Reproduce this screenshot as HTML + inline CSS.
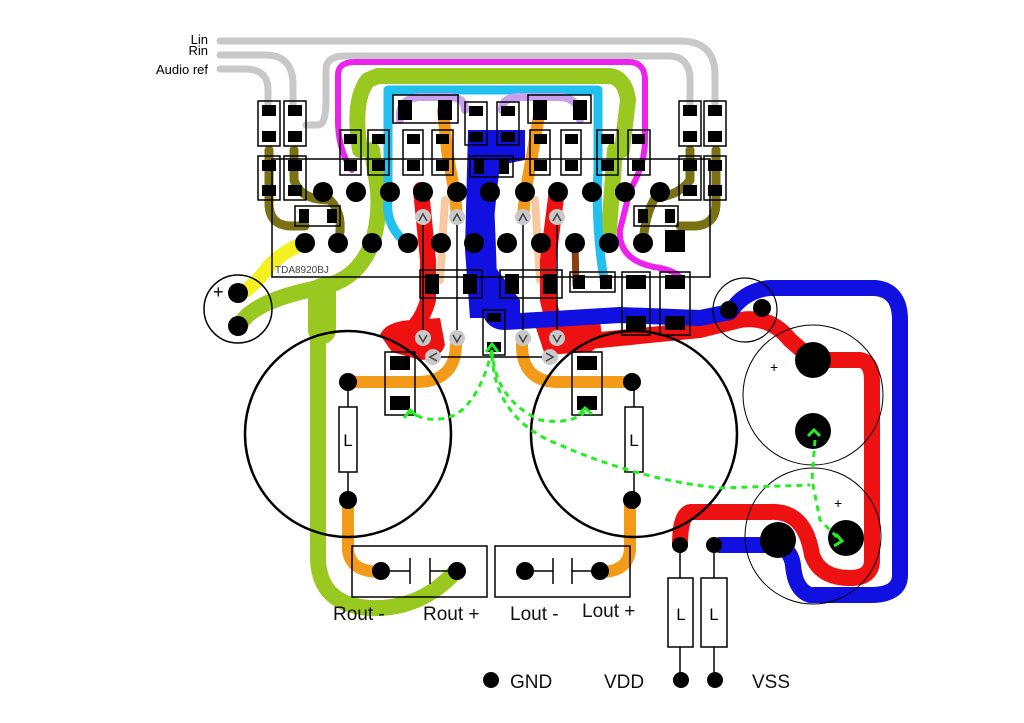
<!DOCTYPE html>
<html><head><meta charset="utf-8"><style>
html,body{margin:0;padding:0;background:#fff;width:1024px;height:723px;overflow:hidden}
svg{display:block}
text{font-family:"Liberation Sans",sans-serif}
</style></head><body>
<svg width="1024" height="723" viewBox="0 0 1024 723" xmlns="http://www.w3.org/2000/svg">
<g fill="none" stroke-linecap="round" stroke-linejoin="round">
<g stroke="#c8c8c8" stroke-width="7">
<path d="M220,41 L680,41 Q715,41 715,75 L715,105"/>
<path d="M220,55 L265,55 Q293,55 293,85 L293,105"/>
<path d="M220,69 L245,69 Q268,69 268,90 L268,105"/>
<path d="M306,125 L318,125 Q326,125 326,100 L326,70 Q326,56 345,56 L668,56 Q690,56 690,80 L690,105"/>
</g>
<path stroke="#ee22ee" stroke-width="6" d="M352,170 Q338,150 338,120 L338,75 Q338,62 355,62 L628,62 Q645,62 645,80 L645,140 Q645,165 630,190 L620,230 Q618,262 660,268 Q680,272 682,282"/>
<path stroke="#f5f020" stroke-width="14" d="M305,243 Q285,250 270,265 Q255,285 242,293"/>
<g stroke="#99c820" stroke-width="16">
<path d="M360,150 Q352,100 368,80 L378,76 L610,76 Q625,78 628,100 L622,150"/>
<path d="M372,243 Q380,220 378,190 L372,150"/>
<path d="M372,243 Q360,275 330,285 L300,292 Q250,305 240,325"/>
<path d="M325,285 Q318,300 318,340 L318,560 Q320,605 370,608 Q420,610 455,572"/>
<path d="M608,243 Q610,215 612,190 L615,150"/>
</g>
<path stroke="#99c820" stroke-width="28" d="M322,292 L322,330"/>
<g stroke="#22c0ee" stroke-width="9">
<path d="M406,243 Q385,225 388,200 L388,90 L598,90 L598,170 Q595,230 605,285"/>
</g>
<g stroke="#c9a0ee" stroke-width="8">
<path d="M400,120 Q398,98 420,97 L450,97 Q465,98 465,110"/>
<path d="M502,110 Q502,97 520,97 L560,97 Q580,98 580,120"/>
</g>
<g stroke="#7a7212" stroke-width="9">
<path d="M269,150 L269,205 Q270,225 290,226 L305,226"/>
<path d="M294,150 L294,180 Q300,200 330,200 Q345,215 338,243"/>
<path d="M716,150 L716,205 Q715,225 695,226 L680,226"/>
<path d="M690,150 L690,180 Q680,195 655,198 Q645,215 643,243"/>
</g>
<path stroke="#8a4010" stroke-width="7" d="M575,243 L576,285"/>
<g stroke="#f39a18" stroke-width="12">
<path d="M443,110 L447,150 L455,195 L457,217"/>
<path d="M540,110 L533,150 L525,195 L523,217"/>
<path d="M345,382 L420,382 Q455,380 456,345"/>
<path d="M630,382 L555,382 Q522,380 522,345"/>
<path d="M348,500 L348,550 Q350,572 381,572"/>
<path d="M630,500 L630,550 Q628,572 600,572"/>
</g>
<g stroke="#f8c8a0" stroke-width="8"><path d="M445,200 L440,280"/><path d="M535,200 L540,280"/></g>
<g stroke="#ee1111" stroke-width="16">
<path d="M421,190 L428,260 L428,300 Q420,330 395,340"/>
<path d="M557,190 L548,260 L548,300 Q555,335 580,340"/>
<path d="M550,345 L700,330 L740,320 Q770,315 790,340 L813,360 L860,360 Q872,362 872,380 L872,560 Q872,578 850,578 Q820,578 812,555 Q805,510 770,512 L690,512 Q680,515 680,545"/>
</g>
<path fill="#ee1111" stroke="none" d="M380,335 Q385,322 410,320 L440,318 L445,345 Q440,360 420,360 L392,352 Z"/>
<path fill="#ee1111" stroke="none" d="M535,325 L575,318 L600,322 Q605,345 590,352 L545,355 Z"/>
<g stroke="#1010e0" stroke-width="16">
<path d="M480,140 L485,175 L488,250 L490,310 Q492,322 505,322 L620,315 L700,318 L730,312 Q745,290 770,288 L875,288 Q900,290 900,320 L900,575 Q900,595 870,595 L810,595 Q795,590 793,565 Q790,545 770,545 L720,545"/>
</g>
<path fill="#1010e0" stroke="none" d="M468,130 L525,130 L525,160 L500,165 L497,190 L490,260 L520,300 L520,318 L470,318 L465,250 Z"/>
</g>
<rect x="272" y="159" width="438" height="118" fill="none" stroke="#000" stroke-width="1.5"/>
<text x="275" y="273" font-size="10" fill="#444">TDA8920BJ</text>
<g fill="none" stroke="#000" stroke-width="1.5">
<rect x="258" y="101" width="22" height="45"/><rect x="284" y="101" width="22" height="45"/>
<rect x="258" y="156" width="22" height="44"/><rect x="284" y="156" width="22" height="44"/>
<rect x="679" y="101" width="22" height="45"/><rect x="704" y="101" width="22" height="45"/>
<rect x="679" y="156" width="22" height="44"/><rect x="704" y="156" width="22" height="44"/>
<rect x="340" y="130" width="21" height="45"/><rect x="368" y="130" width="21" height="45"/>
<rect x="403" y="130" width="20" height="45"/><rect x="432" y="130" width="21" height="45"/>
<rect x="530" y="130" width="20" height="45"/><rect x="561" y="130" width="20" height="45"/>
<rect x="597" y="130" width="21" height="45"/><rect x="628" y="130" width="22" height="45"/>
<rect x="393" y="95" width="65" height="28"/><rect x="528" y="95" width="63" height="28"/>
<rect x="465" y="102" width="22" height="43"/><rect x="497" y="102" width="22" height="43"/>
<rect x="470" y="156" width="43" height="21"/>
<rect x="295" y="206" width="45" height="20"/><rect x="634" y="206" width="44" height="20"/>
<rect x="420" y="270" width="62" height="28"/><rect x="500" y="270" width="62" height="28"/>
<rect x="570" y="272" width="45" height="20"/>
<rect x="622" y="272" width="28" height="63"/><rect x="660" y="272" width="30" height="63"/>
<rect x="483" y="310" width="22" height="45"/>
<rect x="385" y="352" width="30" height="63"/><rect x="572" y="352" width="30" height="63"/>
</g>
<g fill="#000">
<rect x="262" y="105" width="14" height="11"/><rect x="262" y="131" width="14" height="11"/>
<rect x="288" y="105" width="14" height="11"/><rect x="288" y="131" width="14" height="11"/>
<rect x="262" y="160" width="14" height="11"/><rect x="262" y="185" width="14" height="11"/>
<rect x="288" y="160" width="14" height="11"/><rect x="288" y="185" width="14" height="11"/>
<rect x="683" y="105" width="14" height="11"/><rect x="683" y="131" width="14" height="11"/>
<rect x="708" y="105" width="14" height="11"/><rect x="708" y="131" width="14" height="11"/>
<rect x="683" y="160" width="14" height="11"/><rect x="683" y="185" width="14" height="11"/>
<rect x="708" y="160" width="14" height="11"/><rect x="708" y="185" width="14" height="11"/>
<rect x="344" y="134" width="13" height="10"/><rect x="344" y="160" width="13" height="11"/>
<rect x="372" y="134" width="13" height="10"/><rect x="372" y="160" width="13" height="11"/>
<rect x="407" y="134" width="13" height="10"/><rect x="407" y="160" width="13" height="11"/>
<rect x="436" y="134" width="13" height="10"/><rect x="436" y="160" width="13" height="11"/>
<rect x="534" y="134" width="13" height="10"/><rect x="534" y="160" width="13" height="11"/>
<rect x="565" y="134" width="13" height="10"/><rect x="565" y="160" width="13" height="11"/>
<rect x="601" y="134" width="13" height="10"/><rect x="601" y="160" width="13" height="11"/>
<rect x="632" y="134" width="13" height="10"/><rect x="632" y="160" width="13" height="11"/>
<rect x="398" y="100" width="14" height="20"/><rect x="438" y="100" width="14" height="20"/>
<rect x="533" y="100" width="14" height="20"/><rect x="573" y="100" width="14" height="20"/>
<rect x="469" y="106" width="14" height="10"/><rect x="469" y="132" width="14" height="10"/>
<rect x="501" y="106" width="14" height="10"/><rect x="501" y="132" width="14" height="10"/>
<rect x="474" y="159" width="10" height="15"/><rect x="499" y="159" width="10" height="15"/>
<rect x="299" y="209" width="10" height="14"/><rect x="327" y="209" width="10" height="14"/>
<rect x="638" y="209" width="10" height="14"/><rect x="665" y="209" width="10" height="14"/>
<rect x="425" y="274" width="14" height="20"/><rect x="463" y="274" width="14" height="20"/>
<rect x="505" y="274" width="14" height="20"/><rect x="543" y="274" width="14" height="20"/>
<rect x="573" y="275" width="12" height="14"/><rect x="600" y="275" width="12" height="14"/>
<rect x="626" y="275" width="20" height="14"/><rect x="626" y="316" width="20" height="14"/>
<rect x="665" y="275" width="20" height="14"/><rect x="665" y="316" width="20" height="14"/>
<rect x="487" y="313" width="14" height="9"/><rect x="487" y="342" width="14" height="10"/>
<rect x="390" y="356" width="20" height="14"/><rect x="390" y="396" width="20" height="14"/>
<rect x="577" y="356" width="20" height="14"/><rect x="577" y="396" width="20" height="14"/>
<rect x="665" y="230" width="20" height="22"/>
</g>
<g fill="#000">
<circle cx="323" cy="192" r="10"/><circle cx="356" cy="192" r="10"/><circle cx="390" cy="192" r="10"/><circle cx="423" cy="192" r="10"/><circle cx="457" cy="192" r="10"/><circle cx="490" cy="192" r="10"/><circle cx="525" cy="192" r="10"/><circle cx="558" cy="192" r="10"/><circle cx="592" cy="192" r="10"/><circle cx="625" cy="192" r="10"/><circle cx="660" cy="192" r="10"/>
<circle cx="305" cy="243" r="10"/><circle cx="338" cy="243" r="10"/><circle cx="372" cy="243" r="10"/><circle cx="408" cy="243" r="10"/><circle cx="441" cy="243" r="10"/><circle cx="474" cy="243" r="10"/><circle cx="507" cy="243" r="10"/><circle cx="541" cy="243" r="10"/><circle cx="575" cy="243" r="10"/><circle cx="609" cy="243" r="10"/><circle cx="643" cy="243" r="10"/>
</g>
<g stroke="#000" stroke-width="1.5" fill="none">
<line x1="423" y1="217" x2="423" y2="338"/><line x1="457" y1="217" x2="457" y2="338"/>
<line x1="523" y1="217" x2="523" y2="338"/><line x1="557" y1="217" x2="557" y2="338"/>
<line x1="433" y1="357" x2="550" y2="357"/>
</g>
<g fill="#c8c8c8">
<circle cx="423" cy="217" r="8"/><circle cx="457" cy="217" r="8"/><circle cx="523" cy="217" r="8"/><circle cx="557" cy="217" r="8"/>
<circle cx="423" cy="338" r="8"/><circle cx="457" cy="338" r="8"/><circle cx="523" cy="338" r="8"/><circle cx="557" cy="338" r="8"/>
<circle cx="433" cy="357" r="8"/><circle cx="550" cy="357" r="8"/>
</g>
<g stroke="#444" stroke-width="1.5" fill="none">
<path d="M419,221 L423,214 L427,221"/><path d="M453,221 L457,214 L461,221"/><path d="M519,221 L523,214 L527,221"/><path d="M553,221 L557,214 L561,221"/>
<path d="M419,335 L423,342 L427,335"/><path d="M453,335 L457,342 L461,335"/><path d="M519,335 L523,342 L527,335"/><path d="M553,335 L557,342 L561,335"/>
<path d="M437,353 L430,357 L437,361"/><path d="M546,353 L553,357 L546,361"/>
</g>
<g fill="none" stroke="#000">
<circle cx="238" cy="309" r="34" stroke-width="1.5"/>
<circle cx="745" cy="310" r="32" stroke-width="1.2"/>
<circle cx="348" cy="434" r="103" stroke-width="2.5"/>
<circle cx="634" cy="434" r="103" stroke-width="2.5"/>
<circle cx="813" cy="395" r="70" stroke-width="1"/>
<circle cx="813" cy="536" r="68" stroke-width="1"/>
</g>
<g fill="#000">
<circle cx="238" cy="293" r="10"/><circle cx="238" cy="326" r="10"/>
<circle cx="729" cy="310" r="9"/><circle cx="762" cy="308" r="9"/>
<circle cx="813" cy="360" r="18"/><circle cx="813" cy="431" r="18"/>
<circle cx="778" cy="540" r="18"/><circle cx="846" cy="538" r="18"/>
</g>
<text x="213" y="298" font-size="18" fill="#000">+</text>
<text x="770" y="372" font-size="14" fill="#000">+</text>
<text x="834" y="508" font-size="14" fill="#000">+</text>
<g stroke="#000" stroke-width="1.5" fill="#fff">
<line x1="348" y1="382" x2="348" y2="500"/><line x1="634" y1="382" x2="634" y2="500"/>
<rect x="339" y="407" width="18" height="65"/><rect x="625" y="407" width="18" height="65"/>
<line x1="680" y1="545" x2="680" y2="678"/><line x1="714" y1="545" x2="714" y2="678"/>
<rect x="668" y="578" width="25" height="69"/><rect x="701" y="578" width="26" height="69"/>
</g>
<g font-size="17" fill="#000" text-anchor="middle">
<text x="348" y="446">L</text><text x="634" y="446">L</text>
<text x="681" y="620">L</text><text x="714" y="620">L</text>
</g>
<g fill="#000">
<circle cx="348" cy="382" r="9"/><circle cx="348" cy="500" r="9"/>
<circle cx="632" cy="382" r="9"/><circle cx="632" cy="500" r="9"/>
<circle cx="680" cy="545" r="8"/><circle cx="714" cy="545" r="8"/>
<circle cx="681" cy="680" r="8"/><circle cx="715" cy="680" r="8"/>
<circle cx="491" cy="680" r="8"/>
</g>
<g stroke="#000" stroke-width="1.5" fill="none">
<rect x="352" y="546" width="135" height="51"/><rect x="495" y="546" width="135" height="51"/>
<path d="M381,571 L410,571 M410,558 L410,584 M430,558 L430,584 M430,571 L457,571"/>
<path d="M525,571 L553,571 M553,558 L553,584 M572,558 L572,584 M572,571 L600,571"/>
</g>
<g fill="#000"><circle cx="381" cy="571" r="9"/><circle cx="457" cy="571" r="9"/><circle cx="525" cy="571" r="9"/><circle cx="600" cy="571" r="9"/></g>
<g stroke="#22ee22" stroke-width="3" stroke-dasharray="6,5" fill="none">
<path d="M492,350 Q480,400 455,415 Q430,425 410,412"/>
<path d="M492,350 Q495,400 540,420 Q570,425 585,412"/>
<path d="M492,355 Q495,420 560,445 Q640,480 720,488 L810,485"/>
<path d="M815,440 L812,480 L820,520 L840,540"/>
</g>
<g stroke="#22ee22" stroke-width="3" fill="none">
<path d="M404,418 L410,410 L417,416"/><path d="M579,414 L585,408 L592,414"/>
<path d="M808,436 L814,430 L820,436"/><path d="M836,534 L842,541 L834,546"/>
<path d="M486,352 L492,344 L498,352"/>
</g>
<g font-size="13" fill="#000" text-anchor="end">
<text x="208" y="44">Lin</text><text x="208" y="55">Rin</text><text x="208" y="74">Audio ref</text>
</g>
<g font-size="19" fill="#111">
<text x="333" y="620">Rout -</text><text x="423" y="620">Rout +</text>
<text x="510" y="620">Lout -</text><text x="582" y="617">Lout +</text>
<text x="510" y="688">GND</text><text x="604" y="688">VDD</text><text x="752" y="688">VSS</text>
</g>
</svg>
</body></html>
